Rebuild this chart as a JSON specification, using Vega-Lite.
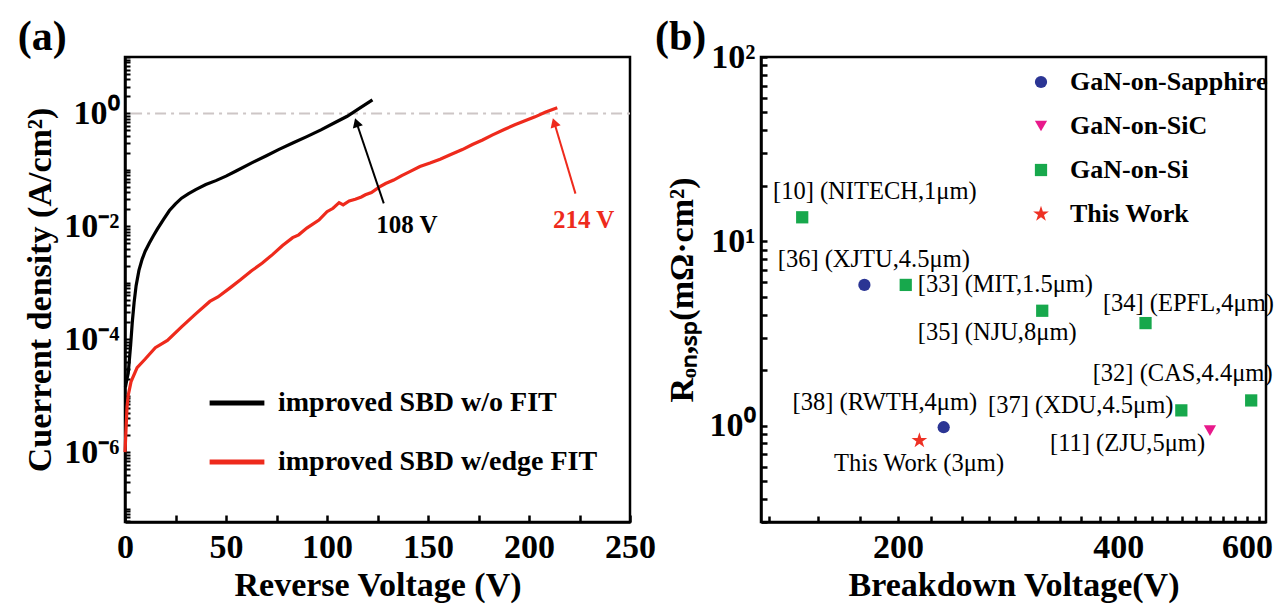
{
  "$schema": "https://vega.github.io/schema/vega-lite/v6.json",
  "background": "white",
  "padding": {"left": 16, "top": 14, "right": 4, "bottom": 4},
  "autosize": {"type": "pad"},
  "bounds": "flush",
  "spacing": 131,
  "config": {
    "font": "Liberation Serif",
    "view": {"stroke": "black", "strokeWidth": 2.5},
    "axis": {
      "grid": false,
      "domainColor": "black",
      "domainWidth": 2.5,
      "ticks": true,
      "labelFont": "Liberation Serif",
      "labelFontWeight": "bold",
      "labelFontSize": 34,
      "labelColor": "black",
      "labelOverlap": false,
      "labelFlush": false,
      "labelBound": false,
      "titleFont": "Liberation Serif",
      "titleFontWeight": "bold",
      "titleFontSize": 34,
      "titleColor": "black"
    },
    "title": {"font": "Liberation Serif", "fontSize": 42, "fontWeight": "bold", "color": "black", "anchor": "start", "frame": "bounds", "offset": -19},
    "legend": {"labelFont": "Liberation Serif", "labelFontWeight": "bold", "labelColor": "black", "title": null, "labelLimit": 0}
  },
  "datasets": {
    "curves": [
      {"series": "improved SBD w/o FIT", "V": 0.2, "J": 1.41e-5},
      {"series": "improved SBD w/o FIT", "V": 1.0, "J": 2.0e-5},
      {"series": "improved SBD w/o FIT", "V": 1.6, "J": 2.51e-5},
      {"series": "improved SBD w/o FIT", "V": 2.2, "J": 4.47e-5},
      {"series": "improved SBD w/o FIT", "V": 2.8, "J": 7.94e-5},
      {"series": "improved SBD w/o FIT", "V": 3.6, "J": 2.0e-4},
      {"series": "improved SBD w/o FIT", "V": 4.5, "J": 4.47e-4},
      {"series": "improved SBD w/o FIT", "V": 5.5, "J": 8.91e-4},
      {"series": "improved SBD w/o FIT", "V": 6.9, "J": 1.66e-3},
      {"series": "improved SBD w/o FIT", "V": 8.5, "J": 2.63e-3},
      {"series": "improved SBD w/o FIT", "V": 10, "J": 3.63e-3},
      {"series": "improved SBD w/o FIT", "V": 12, "J": 5.01e-3},
      {"series": "improved SBD w/o FIT", "V": 14, "J": 6.76e-3},
      {"series": "improved SBD w/o FIT", "V": 16, "J": 8.91e-3},
      {"series": "improved SBD w/o FIT", "V": 19, "J": 1.32e-2},
      {"series": "improved SBD w/o FIT", "V": 22, "J": 1.91e-2},
      {"series": "improved SBD w/o FIT", "V": 25, "J": 2.51e-2},
      {"series": "improved SBD w/o FIT", "V": 28, "J": 3.16e-2},
      {"series": "improved SBD w/o FIT", "V": 31.5, "J": 3.8e-2},
      {"series": "improved SBD w/o FIT", "V": 35, "J": 4.47e-2},
      {"series": "improved SBD w/o FIT", "V": 40, "J": 5.5e-2},
      {"series": "improved SBD w/o FIT", "V": 45, "J": 6.46e-2},
      {"series": "improved SBD w/o FIT", "V": 50, "J": 7.76e-2},
      {"series": "improved SBD w/o FIT", "V": 55, "J": 9.55e-2},
      {"series": "improved SBD w/o FIT", "V": 62.5, "J": 0.132},
      {"series": "improved SBD w/o FIT", "V": 70, "J": 0.178},
      {"series": "improved SBD w/o FIT", "V": 76, "J": 0.229},
      {"series": "improved SBD w/o FIT", "V": 83.3, "J": 0.302},
      {"series": "improved SBD w/o FIT", "V": 90, "J": 0.389},
      {"series": "improved SBD w/o FIT", "V": 97, "J": 0.513},
      {"series": "improved SBD w/o FIT", "V": 104, "J": 0.692},
      {"series": "improved SBD w/o FIT", "V": 110, "J": 0.891},
      {"series": "improved SBD w/o FIT", "V": 116, "J": 1.23},
      {"series": "improved SBD w/o FIT", "V": 122.5, "J": 1.74},
      {"series": "improved SBD w/edge FIT", "V": 0, "J": 1.0e-6},
      {"series": "improved SBD w/edge FIT", "V": 0.5, "J": 2.51e-6},
      {"series": "improved SBD w/edge FIT", "V": 1.0, "J": 6.31e-6},
      {"series": "improved SBD w/edge FIT", "V": 1.6, "J": 1.02e-5},
      {"series": "improved SBD w/edge FIT", "V": 3, "J": 1.78e-5},
      {"series": "improved SBD w/edge FIT", "V": 6, "J": 3.16e-5},
      {"series": "improved SBD w/edge FIT", "V": 10, "J": 4.47e-5},
      {"series": "improved SBD w/edge FIT", "V": 15, "J": 7.08e-5},
      {"series": "improved SBD w/edge FIT", "V": 21, "J": 9.55e-5},
      {"series": "improved SBD w/edge FIT", "V": 28, "J": 1.66e-4},
      {"series": "improved SBD w/edge FIT", "V": 35, "J": 2.82e-4},
      {"series": "improved SBD w/edge FIT", "V": 42, "J": 4.68e-4},
      {"series": "improved SBD w/edge FIT", "V": 46, "J": 5.62e-4},
      {"series": "improved SBD w/edge FIT", "V": 52, "J": 8.13e-4},
      {"series": "improved SBD w/edge FIT", "V": 57, "J": 1.12e-3},
      {"series": "improved SBD w/edge FIT", "V": 62.5, "J": 1.62e-3},
      {"series": "improved SBD w/edge FIT", "V": 68, "J": 2.24e-3},
      {"series": "improved SBD w/edge FIT", "V": 73, "J": 3.16e-3},
      {"series": "improved SBD w/edge FIT", "V": 78, "J": 4.57e-3},
      {"series": "improved SBD w/edge FIT", "V": 83, "J": 6.31e-3},
      {"series": "improved SBD w/edge FIT", "V": 86, "J": 7.08e-3},
      {"series": "improved SBD w/edge FIT", "V": 90, "J": 9.33e-3},
      {"series": "improved SBD w/edge FIT", "V": 96, "J": 1.29e-2},
      {"series": "improved SBD w/edge FIT", "V": 100, "J": 1.82e-2},
      {"series": "improved SBD w/edge FIT", "V": 103, "J": 2.09e-2},
      {"series": "improved SBD w/edge FIT", "V": 106, "J": 2.63e-2},
      {"series": "improved SBD w/edge FIT", "V": 108, "J": 2.4e-2},
      {"series": "improved SBD w/edge FIT", "V": 111, "J": 2.82e-2},
      {"series": "improved SBD w/edge FIT", "V": 114, "J": 3.02e-2},
      {"series": "improved SBD w/edge FIT", "V": 117, "J": 3.31e-2},
      {"series": "improved SBD w/edge FIT", "V": 119, "J": 3.63e-2},
      {"series": "improved SBD w/edge FIT", "V": 122, "J": 3.98e-2},
      {"series": "improved SBD w/edge FIT", "V": 126, "J": 5.01e-2},
      {"series": "improved SBD w/edge FIT", "V": 129, "J": 5.75e-2},
      {"series": "improved SBD w/edge FIT", "V": 133, "J": 6.61e-2},
      {"series": "improved SBD w/edge FIT", "V": 137, "J": 7.94e-2},
      {"series": "improved SBD w/edge FIT", "V": 141, "J": 9.33e-2},
      {"series": "improved SBD w/edge FIT", "V": 146, "J": 0.115},
      {"series": "improved SBD w/edge FIT", "V": 151, "J": 0.132},
      {"series": "improved SBD w/edge FIT", "V": 156, "J": 0.155},
      {"series": "improved SBD w/edge FIT", "V": 161, "J": 0.186},
      {"series": "improved SBD w/edge FIT", "V": 167, "J": 0.229},
      {"series": "improved SBD w/edge FIT", "V": 172, "J": 0.282},
      {"series": "improved SBD w/edge FIT", "V": 177, "J": 0.339},
      {"series": "improved SBD w/edge FIT", "V": 182, "J": 0.417},
      {"series": "improved SBD w/edge FIT", "V": 188, "J": 0.525},
      {"series": "improved SBD w/edge FIT", "V": 193, "J": 0.631},
      {"series": "improved SBD w/edge FIT", "V": 198, "J": 0.741},
      {"series": "improved SBD w/edge FIT", "V": 203, "J": 0.871},
      {"series": "improved SBD w/edge FIT", "V": 208, "J": 1.047},
      {"series": "improved SBD w/edge FIT", "V": 214, "J": 1.259}
    ],
    "arrows": [
      {"series": "improved SBD w/o FIT", "x1": 128.1, "y1": 0.0255, "x2": 114.6, "y2": 0.69},
      {"series": "improved SBD w/edge FIT", "x1": 223, "y1": 0.038, "x2": 212.5, "y2": 0.69}
    ],
    "notes": [
      {"series": "improved SBD w/o FIT", "V": 139.6, "J": 0.0104, "text": "108 V"},
      {"series": "improved SBD w/edge FIT", "V": 227.1, "J": 0.0128, "text": "214 V"}
    ],
    "refline": [{"V0": 3, "V1": 250, "J": 1}],
    "devices": [
      {"type": "GaN-on-Si", "BV": 148, "Ron": 13.5},
      {"type": "GaN-on-Sapphire", "BV": 180, "Ron": 5.8},
      {"type": "GaN-on-Si", "BV": 205, "Ron": 5.8},
      {"type": "GaN-on-Si", "BV": 315, "Ron": 4.2},
      {"type": "GaN-on-Si", "BV": 436, "Ron": 3.6},
      {"type": "GaN-on-Si", "BV": 608, "Ron": 1.37},
      {"type": "GaN-on-Si", "BV": 488, "Ron": 1.21},
      {"type": "GaN-on-SiC", "BV": 534, "Ron": 0.94},
      {"type": "GaN-on-Sapphire", "BV": 231, "Ron": 0.98},
      {"type": "This Work", "BV": 214, "Ron": 0.83}
    ],
    "devlabels": [
      {"BV": 186, "Ron": 18.5, "text": "[10] (NITECH,1μm)"},
      {"BV": 185.4, "Ron": 7.9, "text": "[36] (XJTU,4.5μm)"},
      {"BV": 280.5, "Ron": 5.8, "text": "[33] (MIT,1.5μm)"},
      {"BV": 499, "Ron": 4.56, "text": "[34] (EPFL,4μm)"},
      {"BV": 273.4, "Ron": 3.2, "text": "[35] (NJU,8μm)"},
      {"BV": 490, "Ron": 1.9, "text": "[32] (CAS,4.4μm)"},
      {"BV": 355.6, "Ron": 1.28, "text": "[37] (XDU,4.5μm)"},
      {"BV": 412, "Ron": 0.79, "text": "[11] (ZJU,5μm)"},
      {"BV": 192, "Ron": 1.33, "text": "[38] (RWTH,4μm)"},
      {"BV": 213.8, "Ron": 0.616, "text": "This Work (3μm)"}
    ]
  },
  "resolve": {
    "scale": {"color": "independent", "shape": "independent"},
    "legend": {"color": "independent", "shape": "independent"}
  },
  "hconcat": [
    {
      "width": 505,
      "height": 465,
      "title": {"text": "(a)", "dx": -6},
      "layer": [
        {
          "data": {"name": "refline"},
          "mark": {"type": "rule", "strokeDash": [11, 5, 3, 5], "color": "#cdc6c6", "strokeWidth": 2},
          "encoding": {
            "x": {"field": "V0", "type": "quantitative"},
            "x2": {"field": "V1"},
            "y": {"field": "J", "type": "quantitative"}
          }
        },
        {
          "data": {"name": "curves"},
          "mark": {"type": "line", "strokeWidth": 3.2},
          "encoding": {
            "x": {
              "field": "V", "type": "quantitative",
              "scale": {"domain": [0, 250], "nice": false, "zero": false},
              "axis": {
                "title": "Reverse Voltage (V)",
                "values": [0, 25, 50, 75, 100, 125, 150, 175, 200, 225, 250],
                "labelExpr": "datum.value % 50 == 0 ? datum.label : ''",
                "tickSize": -7,
                "tickColor": "#000000",
                "tickWidth": 2.5,
                "tickOpacity": 1,
                "labelPadding": 15,
                "titlePadding": 4
              }
            },
            "y": {
              "field": "J", "type": "quantitative",
              "scale": {"type": "log", "domain": [5.8e-8, 10], "nice": false},
              "axis": {
                "title": "Cuerrent density (A/cm²)",
                "values": [6e-8, 7e-8, 8e-8, 9e-8, 1e-7, 2e-7, 3e-7, 4e-7, 5e-7, 6e-7, 7e-7, 8e-7, 9e-7, 1e-6, 2e-6, 3e-6, 4e-6, 5e-6, 6e-6, 7e-6, 8e-6, 9e-6, 1e-5, 2e-5, 3e-5, 4e-5, 5e-5, 6e-5, 7e-5, 8e-5, 9e-5, 1e-4, 2e-4, 3e-4, 4e-4, 5e-4, 6e-4, 7e-4, 8e-4, 9e-4, 1e-3, 2e-3, 3e-3, 4e-3, 5e-3, 6e-3, 7e-3, 8e-3, 9e-3, 0.01, 0.02, 0.03, 0.04, 0.05, 0.06, 0.07, 0.08, 0.09, 0.1, 0.2, 0.3, 0.4, 0.5, 0.6, 0.7, 0.8, 0.9, 1, 2, 3, 4, 5, 6, 7, 8, 9, 10],
                "labelExpr": "(abs(log(datum.value)/LN10 - round(log(datum.value)/LN10)) < 0.001 && round(log(datum.value)/LN10) % 2 == 0) ? '10' + (round(log(datum.value)/LN10) < 0 ? '⁻' : '') + substring('⁰¹²³⁴⁵⁶⁷⁸⁹', abs(round(log(datum.value)/LN10)), abs(round(log(datum.value)/LN10)) + 1) : ''",
                "tickSize": -5,
                "tickColor": "#000000",
                "tickWidth": 2,
                "tickOpacity": 1,
                "labelPadding": 11,
                "titlePadding": 6
              }
            },
            "color": {
              "field": "series", "type": "nominal",
              "scale": {"domain": ["improved SBD w/o FIT", "improved SBD w/edge FIT"], "range": ["#000000", "#ee2a1c"]},
              "legend": {
                "orient": "none", "legendX": 82, "legendY": 316,
                "symbolType": "stroke", "symbolStrokeWidth": 5, "symbolSize": 3000,
                "labelFontSize": 28, "rowPadding": 15, "labelOffset": 11, "title": null, "labelLimit": 0
              }
            }
          }
        },
        {
          "data": {"name": "arrows"},
          "mark": {"type": "rule", "strokeWidth": 2},
          "encoding": {
            "x": {"field": "x1", "type": "quantitative"},
            "y": {"field": "y1", "type": "quantitative"},
            "x2": {"field": "x2"},
            "y2": {"field": "y2"},
            "color": {"field": "series", "type": "nominal"}
          }
        },
        {
          "data": {"name": "arrows"},
          "mark": {"type": "point", "shape": "triangle-up", "filled": true, "opacity": 1, "size": 110, "angle": 342},
          "encoding": {
            "x": {"field": "x2", "type": "quantitative"},
            "y": {"field": "y2", "type": "quantitative"},
            "color": {"field": "series", "type": "nominal"}
          }
        },
        {
          "data": {"name": "notes"},
          "mark": {"type": "text", "fontSize": 25, "fontWeight": "bold", "font": "Liberation Serif"},
          "encoding": {
            "x": {"field": "V", "type": "quantitative"},
            "y": {"field": "J", "type": "quantitative"},
            "text": {"field": "text"},
            "color": {"field": "series", "type": "nominal"}
          }
        }
      ]
    },
    {
      "width": 505,
      "height": 465,
      "title": {"text": "(b)", "dx": -10},
      "layer": [
        {
          "data": {"name": "devices"},
          "mark": {"type": "point", "filled": true, "opacity": 1, "size": 150},
          "encoding": {
            "x": {
              "field": "BV", "type": "quantitative",
              "scale": {"type": "log", "domain": [130, 637], "nice": false},
              "axis": {
                "title": "Breakdown Voltage(V)",
                "values": [133.333, 155.556, 177.778, 200, 222.222, 244.444, 266.667, 288.889, 311.111, 333.333, 355.556, 377.778, 400, 422.222, 444.444, 466.667, 488.889, 511.111, 533.333, 555.556, 577.778, 600, 622.222],
                "labelExpr": "abs(datum.value/200 - round(datum.value/200)) < 0.001 ? format(datum.value, '.0f') : ''",
                "tickSize": -6,
                "tickColor": "#000000",
                "tickWidth": 2.5,
                "tickOpacity": 1,
                "labelPadding": 14,
                "titlePadding": 4
              }
            },
            "y": {
              "field": "Ron", "type": "quantitative",
              "scale": {"type": "log", "domain": [0.3, 100], "nice": false},
              "axis": {
                "title": "Rₒₙ,ₛₚ(mΩ·cm²)",
                "values": [0.3, 0.4, 0.5, 0.6, 0.7, 0.8, 0.9, 1, 2, 3, 4, 5, 6, 7, 8, 9, 10, 20, 30, 40, 50, 60, 70, 80, 90, 100],
                "labelExpr": "abs(log(datum.value)/LN10 - round(log(datum.value)/LN10)) < 0.001 ? '10' + substring('⁰¹²³⁴⁵⁶⁷⁸⁹', round(log(datum.value)/LN10), round(log(datum.value)/LN10) + 1) : ''",
                "tickSize": -6,
                "tickColor": "#000000",
                "tickWidth": 2.5,
                "tickOpacity": 1,
                "labelPadding": 12,
                "titlePadding": 10
              }
            },
            "color": {
              "field": "type", "type": "nominal",
              "scale": {"domain": ["GaN-on-Sapphire", "GaN-on-SiC", "GaN-on-Si", "This Work"], "range": ["#2b3594", "#e8198b", "#17a84c", "#ee3124"]},
              "legend": {
                "orient": "none", "legendX": 267, "legendY": 12,
                "labelFontSize": 26, "rowPadding": 18, "labelOffset": 16, "symbolSize": 150, "symbolStrokeWidth": 0, "title": null, "labelLimit": 0
              }
            },
            "shape": {
              "field": "type", "type": "nominal",
              "scale": {"domain": ["GaN-on-Sapphire", "GaN-on-SiC", "GaN-on-Si", "This Work"], "range": ["circle", "triangle-down", "square", "M0,-1.35L0.303,-0.417L1.284,-0.417L0.49,0.159L0.794,1.092L0,0.516L-0.794,1.092L-0.49,0.159L-1.284,-0.417L-0.303,-0.417Z"]},
              "legend": {
                "orient": "none", "legendX": 267, "legendY": 12,
                "labelFontSize": 26, "rowPadding": 18, "labelOffset": 16, "symbolSize": 150, "symbolStrokeWidth": 0, "title": null, "labelLimit": 0
              }
            }
          }
        },
        {
          "data": {"name": "devlabels"},
          "mark": {"type": "text", "fontSize": 24.5, "font": "Liberation Serif", "color": "black"},
          "encoding": {
            "x": {"field": "BV", "type": "quantitative"},
            "y": {"field": "Ron", "type": "quantitative"},
            "text": {"field": "text"}
          }
        }
      ]
    }
  ]
}
